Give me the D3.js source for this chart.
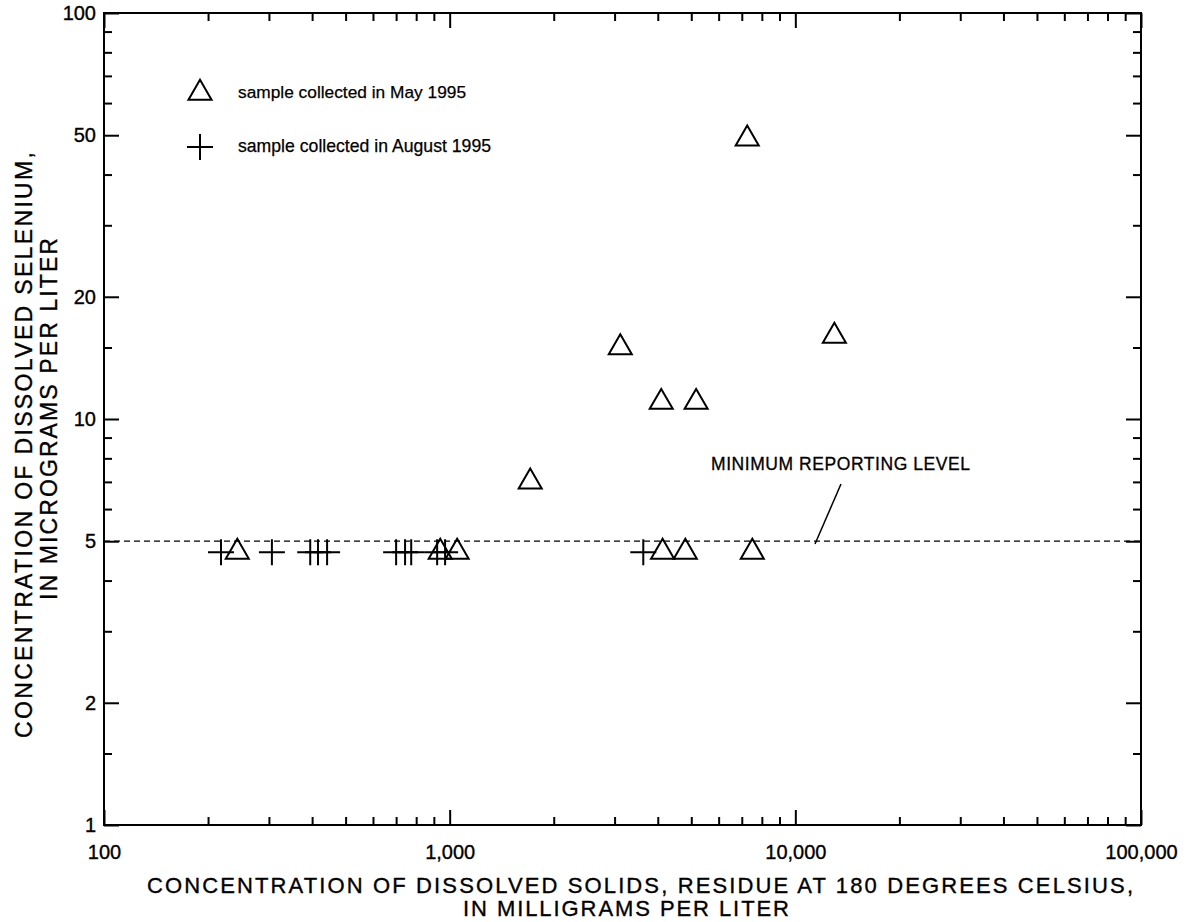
<!DOCTYPE html>
<html>
<head>
<meta charset="utf-8">
<script src="https://cdn.jsdelivr.net/npm/d3@7"></script>
<style>
  html, body { margin: 0; padding: 0; background: #fff; }
  svg { display: block; }
  text { font-family: "Liberation Sans", Arial, Helvetica, sans-serif; fill: #000; }
</style>
</head>
<body>
<svg id="chart" width="1187" height="922"></svg>
<script>
// ---- data ----
const maySolids   = [243, 939, 1051, 1710, 3116, 4093, 5164, 7258, 12970, 4130, 4805, 7508];
const maySelenium = [4.7, 4.7, 4.7, 7.0, 15, 11, 11, 49, 16, 4.7, 4.7, 4.7];
const augSolids   = [218, 306, 395, 416, 442, 700, 743, 774, 920, 970, 3632];
const augSelenium = [4.7, 4.7, 4.7, 4.7, 4.7, 4.7, 4.7, 4.7, 4.7, 4.7, 4.7];
const minReportingLevel = 5;

const xMajorTicks  = [100, 1000, 10000, 100000];
const xTickLabels  = ["100", "1,000", "10,000", "100,000"];
const xMinorTicks  = [200,300,400,500,600,700,800,900,2000,3000,4000,5000,6000,7000,8000,9000,20000,30000,40000,50000,60000,70000,80000,90000];
const yMajorTicks  = [1, 2, 5, 10, 20, 50, 100];
const yTickLabels  = ["1", "2", "5", "10", "20", "50", "100"];
const yMinorTicks  = [1.5, 3, 4, 6, 7, 8, 9, 15, 30, 40, 60, 70, 80, 90];

const legendLabels = ["sample collected in May 1995", "sample collected in August 1995"];
const xTitle = ["CONCENTRATION OF DISSOLVED SOLIDS, RESIDUE AT 180 DEGREES CELSIUS,", "IN MILLIGRAMS PER LITER"];
const yTitle = ["CONCENTRATION OF DISSOLVED SELENIUM,", "IN MICROGRAMS PER LITER"];
const mrlLabel = "MINIMUM REPORTING LEVEL";

// ---- layout ----
const L = 104, R = 1141, T = 13, B = 825;
const svg = d3.select("#chart");

const x = d3.scaleLog().domain([100, 100000]).range([L, R]);
const y = d3.scaleLog().domain([1, 100]).range([B, T]);

const fmtX = d => xTickLabels[xMajorTicks.indexOf(d)];
const fmtY = d => yTickLabels[yMajorTicks.indexOf(d)];

function styleAxis(g) {
  g.select(".domain").remove();
  g.selectAll("line").attr("stroke", "#000").attr("stroke-width", 2);
  g.selectAll("text").attr("font-size", 20).attr("fill", "#000")
    .attr("stroke", "#000").attr("stroke-width", 0.35)
    .style("font-family", "Liberation Sans, Arial, sans-serif");
}

// fit text: choose font size so natural width ~ target, capped, then spacing adjust
function fitText(sel, target, maxSize) {
  sel.attr("font-size", 20);
  const w = sel.node().getComputedTextLength();
  let fs = 20 * target / w;
  if (fs > maxSize) fs = maxSize;
  sel.attr("font-size", fs);
  sel.attr("textLength", target).attr("lengthAdjust", "spacing");
  return sel;
}

// bottom
svg.append("g").attr("transform", `translate(0,${B})`)
  .call(d3.axisBottom(x).tickValues(xMajorTicks).tickFormat(fmtX).tickSize(-15).tickPadding(20))
  .call(styleAxis);
svg.append("g").attr("transform", `translate(0,${B})`)
  .call(d3.axisBottom(x).tickValues(xMinorTicks).tickFormat("").tickSize(-8))
  .call(styleAxis);
// top
svg.append("g").attr("transform", `translate(0,${T})`)
  .call(d3.axisTop(x).tickValues(xMajorTicks).tickFormat("").tickSize(-15))
  .call(styleAxis);
svg.append("g").attr("transform", `translate(0,${T})`)
  .call(d3.axisTop(x).tickValues(xMinorTicks).tickFormat("").tickSize(-8))
  .call(styleAxis);
// left
svg.append("g").attr("transform", `translate(${L},0)`)
  .call(d3.axisLeft(y).tickValues(yMajorTicks).tickFormat(fmtY).tickSize(-15).tickPadding(8))
  .call(styleAxis);
svg.append("g").attr("transform", `translate(${L},0)`)
  .call(d3.axisLeft(y).tickValues(yMinorTicks).tickFormat("").tickSize(-8))
  .call(styleAxis);
// right
svg.append("g").attr("transform", `translate(${R},0)`)
  .call(d3.axisRight(y).tickValues(yMajorTicks).tickFormat("").tickSize(-15))
  .call(styleAxis);
svg.append("g").attr("transform", `translate(${R},0)`)
  .call(d3.axisRight(y).tickValues(yMinorTicks).tickFormat("").tickSize(-8))
  .call(styleAxis);

// frame
svg.append("rect").attr("x", L).attr("y", T).attr("width", R - L).attr("height", B - T)
  .attr("fill", "none").attr("stroke", "#000").attr("stroke-width", 2);

// minimum reporting level
svg.append("line")
  .attr("x1", x(100)).attr("x2", x(100000))
  .attr("y1", y(minReportingLevel)).attr("y2", y(minReportingLevel))
  .attr("stroke", "#000").attr("stroke-width", 1.3).attr("stroke-dasharray", "6,4");

fitText(svg.append("text").attr("x", 711).attr("y", 470)
  .attr("stroke", "#000").attr("stroke-width", 0.3).text(mrlLabel), 259, 17.5);
svg.append("line").attr("x1", 815).attr("y1", 544).attr("x2", 841).attr("y2", 484)
  .attr("stroke", "#000").attr("stroke-width", 1.5);

// markers
const tri = d3.symbol().type(d3.symbolTriangle).size(230);
const crossHalf = 13;

const mayData = maySolids.map((v, i) => ({x: v, y: maySelenium[i]}));
const augData = augSolids.map((v, i) => ({x: v, y: augSelenium[i]}));

svg.append("g").selectAll("path").data(augData).join("path")
  .attr("transform", d => `translate(${x(d.x)},${y(d.y)})`)
  .attr("d", `M${-crossHalf},0H${crossHalf}M0,${-crossHalf}V${crossHalf}`)
  .attr("stroke", "#000").attr("stroke-width", 2).attr("fill", "none");

svg.append("g").selectAll("path").data(mayData).join("path")
  .attr("transform", d => `translate(${x(d.x)},${y(d.y)})`)
  .attr("d", tri)
  .attr("stroke", "#000").attr("stroke-width", 2).attr("fill", "none");

// legend
svg.append("path").attr("transform", "translate(200,93)").attr("d", tri)
  .attr("stroke", "#000").attr("stroke-width", 2).attr("fill", "none");
svg.append("path").attr("transform", "translate(200,147)")
  .attr("d", `M${-crossHalf},0H${crossHalf}M0,${-crossHalf}V${crossHalf}`)
  .attr("stroke", "#000").attr("stroke-width", 2).attr("fill", "none");
fitText(svg.append("text").attr("x", 238).attr("y", 98).attr("stroke", "#000").attr("stroke-width", 0.25)
  .text(legendLabels[0]), 228, 18);
fitText(svg.append("text").attr("x", 238).attr("y", 152).attr("stroke", "#000").attr("stroke-width", 0.25)
  .text(legendLabels[1]), 253, 18);

// axis titles
fitText(svg.append("text").attr("x", 147).attr("y", 893).attr("stroke", "#000").attr("stroke-width", 0.35)
  .text(xTitle[0]), 986, 22);
fitText(svg.append("text").attr("x", 463).attr("y", 916).attr("stroke", "#000").attr("stroke-width", 0.35)
  .text(xTitle[1]), 326, 22);

fitText(svg.append("text").attr("transform", "translate(32,738) rotate(-90)").attr("stroke", "#000").attr("stroke-width", 0.35)
  .text(yTitle[0]), 586, 23);
fitText(svg.append("text").attr("transform", "translate(57,600) rotate(-90)").attr("stroke", "#000").attr("stroke-width", 0.35)
  .text(yTitle[1]), 362, 23);
</script>
</body>
</html>
